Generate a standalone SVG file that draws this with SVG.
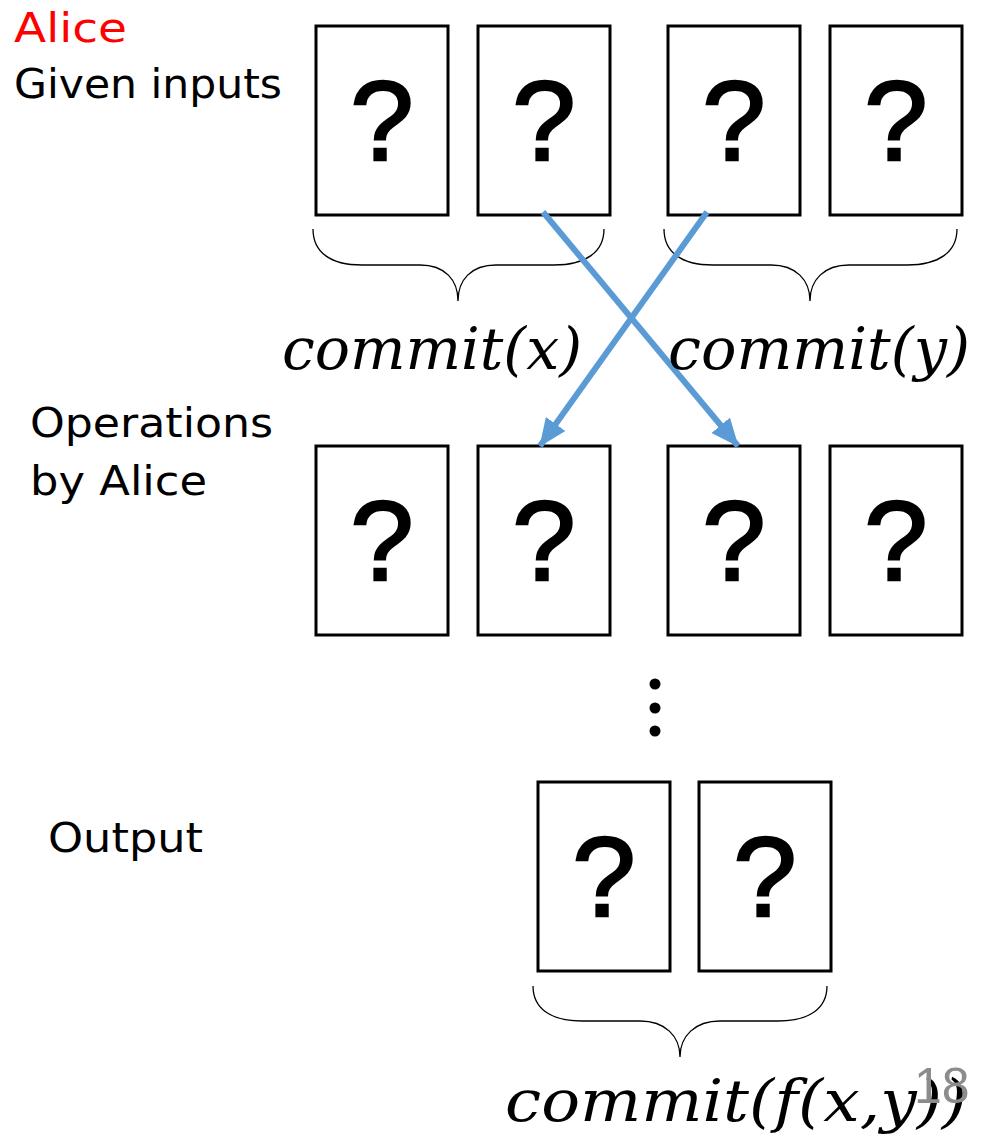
<svg xmlns="http://www.w3.org/2000/svg" width="983" height="1136" viewBox="0 0 983 1136">
<style>
.card{fill:#fff;stroke:#000;stroke-width:3}
.q{font-family:"Liberation Sans",Arial,sans-serif;font-size:114px;fill:#000;stroke:#000;stroke-width:2.5;text-anchor:middle}
.lbl{font-family:"DejaVu Sans","Noto Sans",sans-serif;font-size:40px;fill:#000}
.math{font-family:"DejaVu Serif","Liberation Serif",serif;font-style:italic;font-size:57px;fill:#000}
.brace{fill:none;stroke:#000;stroke-width:1.3}
.arrow{stroke:#5B9BD5;stroke-width:6;fill:none}
</style>
<defs>
<marker id="ah2" viewBox="0 0 28 24" markerWidth="28" markerHeight="24" refX="27" refY="12" orient="auto" markerUnits="userSpaceOnUse">
<path d="M0,0 L28,12 L0,24 z" fill="#5B9BD5"/>
</marker>
</defs>

<g id="labels">
<text class="lbl" x="14" y="42" style="fill:#ff0000" textLength="113" lengthAdjust="spacingAndGlyphs">Alice</text>
<text class="lbl" x="14" y="98" textLength="268" lengthAdjust="spacingAndGlyphs">Given inputs</text>
<text class="lbl" x="30" y="437" textLength="243" lengthAdjust="spacingAndGlyphs">Operations</text>
<text class="lbl" x="30" y="495" textLength="177" lengthAdjust="spacingAndGlyphs">by Alice</text>
<text class="lbl" x="48" y="852" textLength="155" lengthAdjust="spacingAndGlyphs">Output</text>
</g>

<g id="row1">
<g id="r1c1"><rect class="card" x="316" y="26" width="132" height="189"/><text class="q" x="382" y="160">?</text></g>
<g id="r1c2"><rect class="card" x="478" y="26" width="132" height="189"/><text class="q" x="544" y="160">?</text></g>
<g id="r1c3"><rect class="card" x="668" y="26" width="132" height="189"/><text class="q" x="734" y="160">?</text></g>
<g id="r1c4"><rect class="card" x="830" y="26" width="132" height="189"/><text class="q" x="896" y="160">?</text></g>
</g>

<g id="row2">
<g id="r2c1"><rect class="card" x="316" y="446" width="132" height="189"/><text class="q" x="382" y="580">?</text></g>
<g id="r2c2"><rect class="card" x="478" y="446" width="132" height="189"/><text class="q" x="544" y="580">?</text></g>
<g id="r2c3"><rect class="card" x="668" y="446" width="132" height="189"/><text class="q" x="734" y="580">?</text></g>
<g id="r2c4"><rect class="card" x="830" y="446" width="132" height="189"/><text class="q" x="896" y="580">?</text></g>
</g>

<g id="row3">
<g id="r3c1"><rect class="card" x="538" y="782" width="132" height="189"/><text class="q" x="604" y="916">?</text></g>
<g id="r3c2"><rect class="card" x="699" y="782" width="132" height="189"/><text class="q" x="765" y="916">?</text></g>
</g>

<g id="dots">
<circle cx="655" cy="684" r="5.5"/>
<circle cx="655" cy="708" r="5.5"/>
<circle cx="655" cy="731" r="5.5"/>
</g>

<g id="braces">
<path class="brace" d="M313,229 C313,252 330,265 362,265 L420,265 C445,265 458,280 458,301 C458,280 471,265 496,265 L554,265 C586,265 604,252 604,229"/>
<path class="brace" d="M664,229 C664,252 681,265 713,265 L771,265 C796,265 810,280 810,301 C810,280 824,265 849,265 L907,265 C939,265 957,252 957,229"/>
<path class="brace" d="M533,986 C533,1008 550,1021 582,1021 L640,1021 C665,1021 680,1036 680,1057 C680,1036 695,1021 720,1021 L778,1021 C810,1021 827,1008 827,986"/>
</g>

<g id="connectors">
<line class="arrow" x1="543" y1="212" x2="738" y2="446" marker-end="url(#ah2)"/>
<line class="arrow" x1="707" y1="212" x2="540" y2="446" marker-end="url(#ah2)"/>
</g>

<g id="math">
<text class="math" x="282" y="369" textLength="300" lengthAdjust="spacingAndGlyphs">commit(x)</text>
<text class="math" x="668" y="369" textLength="302" lengthAdjust="spacingAndGlyphs">commit(y)</text>
<text class="math" x="505" y="1121" textLength="462" lengthAdjust="spacingAndGlyphs">commit(f(x,y))</text>
</g>

<g id="pagenum">
<text x="914" y="1103" font-family="Liberation Sans,Arial,sans-serif" font-size="50" fill="#8c8c8c">18</text>
</g>
</svg>
